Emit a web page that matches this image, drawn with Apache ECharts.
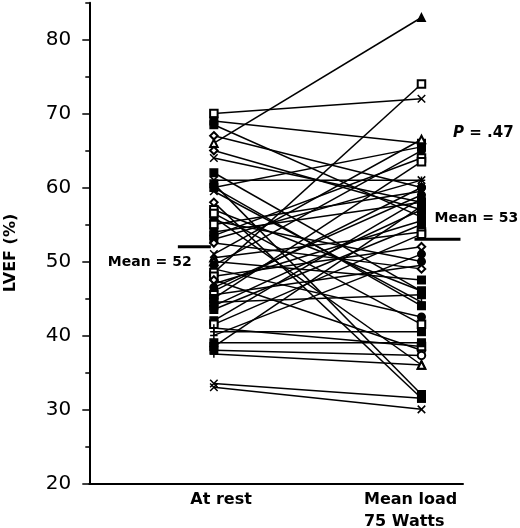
<!DOCTYPE html>
<html>
<head>
<meta charset="utf-8">
<script src="https://cdn.jsdelivr.net/npm/echarts@6/dist/echarts.min.js"></script>
<style>
html,body{margin:0;padding:0;background:#fff;}
#c{width:520px;height:528px;}
</style>
</head>
<body>
<div id="c"></div>
<script>
// ---- data ----
const categories = ['At rest', 'Mean load\n75 Watts'];
const restValues = [70, 69, 68.5, 67, 66, 65, 64, 61, 60.5, 60, 58, 57, 56, 55.5, 55, 54, 53.5, 53, 51, 50.5,
  50, 49.5, 49, 48.5, 48, 47.5, 47, 46.5, 46, 45.5, 45, 44.5, 44, 43.5, 42, 41.5, 41, 40.5, 40, 39,
  38.5, 38, 37.5, 33.5, 33, 52.5, 59.5, 62, 60, 56.5];
const loadValues = [72, 66, 56, 60, 83, 57, 58, 61, 32, 65.5, 31.5, 46, 36, 50, 59.5, 58, 64, 61, 66.5, 54,
  47.5, 65, 42.5, 74, 52, 38, 55.5, 59, 60, 49.5, 63.5, 45.5, 57, 55, 58.5, 53.7, 38.5, 40.5, 51, 39,
  57.5, 37.3, 36, 31.5, 30, 49, 44.5, 46, 44, 41.5];
const restSymbols = ['sqO','sqF','sqF','diam','tri','diam','x','x','sqF','x','diam','sqO','sqF','circF','sqO','sqF','sqF','sqF','x','tri',
  'tri','circF','plus','sqO','sqO','diam','x','circF','circF','sqO','sqF','sqF','sqF','sqF','sqF','sqO','plus','plus','plus','sqF',
  'sqF','sqF','plus','x','x','diam','x','sqF','sqF','sqO'];
const loadSymbols = ['x','sqF','sqF','circF','triF','sqF','plus','x','sqF','sqF','sqF','sqF','triO','circF','x','sqF','sqO','plus','triO','sqO',
  'sqF','circF','circF','sqO','diam','circO','sqF','circF','circF','x','sqO','sqF','sqF','sqF','circF','sqO','sqO','sqF','circF','sqF',
  'sqF','circO','triO','sqF','x','diam','plus','sqF','sqF','sqO'];
const meanValues = [52, 53];
const meanLabels = ['Mean = 52', 'Mean = 53'];
const yTicks = [20, 30, 40, 50, 60, 70, 80];
const yMinorTicks = [25, 35, 45, 55, 65, 75, 85];

// ---- styles ----
const symbolMap = {
  sqO: 'emptyRect', sqF: 'rect', diam: 'emptyDiamond', tri: 'emptyTriangle', triO: 'emptyTriangle',
  triF: 'triangle', circF: 'circle', circO: 'emptyCircle',
  x: 'path://M0,0L10,10M10,0L0,10', plus: 'path://M5,0L5,10M0,5L10,5'
};
const FONT = 'DejaVu Sans';

const series = restValues.map((r, i) => ({
  type: 'line',
  silent: true,
  animation: false,
  symbolSize: 7.5,
  symbolKeepAspect: true,
  lineStyle: { color: '#000', width: 1.5 },
  itemStyle: { color: '#000', borderColor: '#000', borderWidth: 1.5 },
  data: [
    { value: [0, r], symbol: symbolMap[restSymbols[i]] },
    { value: [1, loadValues[i]], symbol: symbolMap[loadSymbols[i]] }
  ]
}));

series.push({
  type: 'custom',
  silent: true,
  animation: false,
  z: 10,
  data: meanValues.map((m, i) => [i, m]),
  renderItem: function (params, api) {
    const idx = params.dataIndex;
    const p = api.coord([api.value(0), api.value(1)]);
    const x1 = idx === 0 ? p[0] - 36 : p[0] - 7;
    const x2 = idx === 0 ? p[0] - 3 : p[0] + 39;
    const tx = idx === 0 ? p[0] - 106 : p[0] + 13;
    const ty = idx === 0 ? p[1] + 16 : p[1] - 21;
    return {
      type: 'group',
      children: [
        { type: 'line', shape: { x1: x1, y1: p[1], x2: x2, y2: p[1] }, style: { stroke: '#000', lineWidth: 3 } },
        { type: 'text', x: tx, y: ty, style: { text: meanLabels[idx], fill: '#000', font: 'bold 14px "' + FONT + '"', align: 'left', verticalAlign: 'middle' } }
      ]
    };
  }
});

const chart = echarts.init(document.getElementById('c'), null, { renderer: 'canvas' });
chart.setOption({
  backgroundColor: '#fff',
  animation: false,
  grid: { left: 89.3, right: 57, top: 2.7, bottom: 44.7, containLabel: false, outerBoundsMode: 'none' },
  xAxis: {
    type: 'value', min: -0.6, max: 1.2,
    splitLine: { show: false },
    axisTick: { show: false },
    axisLine: { onZero: false, lineStyle: { color: '#000', width: 2 } },
    axisLabel: {
      customValues: [0, 1],
      margin: 6,
      color: '#000',
      formatter: function (v) {
        if (v === 0) return '{a|' + categories[0] + '}';
        if (v === 1) return categories[1].split('\n').map(s => '{b|' + s + '}').join('\n');
        return '';
      },
      rich: {
        a: { width: 76, align: 'right', fontFamily: FONT, fontWeight: 'bold', fontSize: 16, lineHeight: 22, color: '#000' },
        b: { width: 115, align: 'left', fontFamily: FONT, fontWeight: 'bold', fontSize: 16, lineHeight: 22, color: '#000' }
      }
    }
  },
  yAxis: [{
    type: 'value', min: 20, max: 85, interval: 10,
    name: 'LVEF (%)',
    nameLocation: 'middle',
    nameRotate: 90,
    nameGap: 70,
    nameTextStyle: { fontFamily: FONT, fontWeight: 'bold', fontSize: 16, color: '#000', padding: [0, 20, 0, 0] },
    splitLine: { show: false },
    axisLine: { show: true, onZero: false, lineStyle: { color: '#000', width: 2 } },
    axisTick: { show: true, customValues: yTicks, length: 7, lineStyle: { color: '#000', width: 1.5 } },
    axisLabel: { customValues: yTicks, margin: 18, fontFamily: FONT, fontSize: 20, color: '#000' }
  }, {
    type: 'value', min: 20, max: 85, position: 'left', offset: 0,
    splitLine: { show: false },
    axisLine: { show: false, onZero: false },
    axisLabel: { show: false },
    axisTick: { show: true, customValues: yMinorTicks, length: 4, lineStyle: { color: '#000', width: 1.5 } }
  }],
  graphic: [{
    type: 'text', left: 453, top: 126,
    style: {
      text: '{i|P} = .47',
      rich: {
        i: { fontFamily: FONT, fontWeight: 'bold', fontStyle: 'italic', fontSize: 15, fill: '#000' }
      },
      font: 'bold 15px "' + FONT + '"',
      fill: '#000'
    }
  }],
  series: series
});
</script>
</body>
</html>
